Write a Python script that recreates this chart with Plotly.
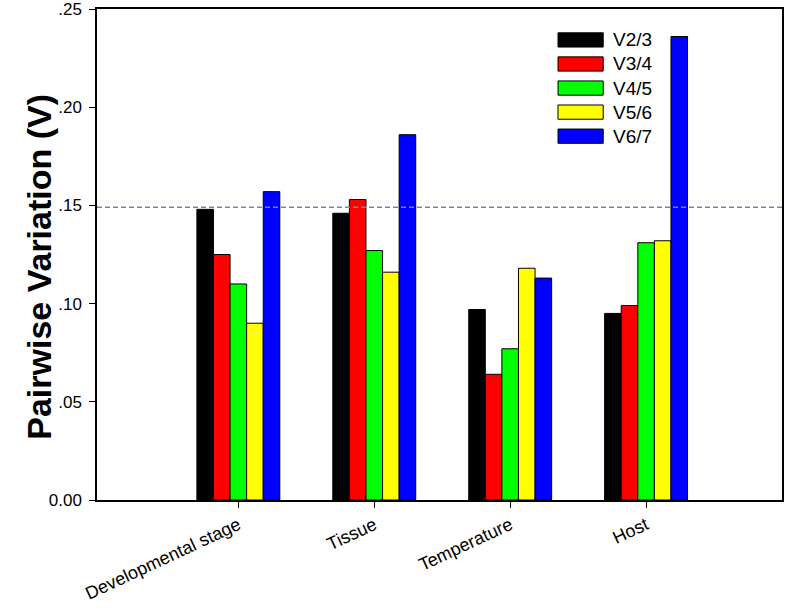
import plotly.graph_objects as go

categories = ["Developmental stage", "Tissue", "Temperature", "Host"]
series_names = ["V2/3", "V3/4", "V4/5", "V5/6", "V6/7"]
v23 = [0.148, 0.146, 0.097, 0.095]
v34 = [0.125, 0.153, 0.064, 0.099]
v45 = [0.110, 0.127, 0.077, 0.131]
v56 = [0.090, 0.116, 0.118, 0.132]
v67 = [0.157, 0.186, 0.113, 0.236]
series_values = [v23, v34, v45, v56, v67]
colors = ["#000000", "#ff0000", "#00ff00", "#ffff00", "#0000ff"]
threshold = 0.149
y_tickvals = [0, 0.05, 0.10, 0.15, 0.20, 0.25]
y_ticktext = ["0.00", ".05", ".10", ".15", ".20", ".25"]
y_title = "Pairwise Variation (V)"

x_idx = list(range(len(categories)))

fig = go.Figure()
for name, vals, col in zip(series_names, series_values, colors):
    fig.add_trace(go.Bar(
        x=x_idx, y=vals, name=name,
        marker=dict(color=col, line=dict(color="#000000", width=1)),
        showlegend=False,
    ))

# threshold line
fig.add_shape(type="line", xref="paper", x0=0, x1=1, yref="y", y0=threshold, y1=threshold,
              line=dict(color="#6a8ab4", width=1.5, dash="5px,3px"))

# custom legend with wide swatches (paper coordinates)
lx0, lx1 = 0.673, 0.739
ly_top = 0.937
ly_step = 0.049
for i, (name, col) in enumerate(zip(series_names, colors)):
    yc = ly_top - i * ly_step
    fig.add_shape(type="rect", xref="paper", yref="paper",
                  x0=lx0, x1=lx1, y0=yc - 0.0145, y1=yc + 0.0145,
                  fillcolor=col, line=dict(color="#000000", width=1))
    fig.add_annotation(xref="paper", yref="paper", x=lx1 + 0.012, y=yc,
                       text=name, showarrow=False, xanchor="left", yanchor="middle",
                       font=dict(family="Arial, Liberation Sans", size=19, color="#000000"))

# y-axis title as rotated annotation
fig.add_annotation(xref="paper", yref="paper", x=-0.084, y=0.476,
                   text="<b>" + y_title + "</b>", textangle=-90, showarrow=False,
                   xanchor="center", yanchor="middle",
                   font=dict(family="Arial, Liberation Sans", size=34, color="#000000"))

fig.update_layout(
    width=785, height=615,
    margin=dict(l=97, r=3, t=9, b=115, autoexpand=False),
    plot_bgcolor="white", paper_bgcolor="white",
    barmode="group", bargap=0.39, bargroupgap=0,
    font=dict(family="Arial, Liberation Sans", color="#000000"),
)
fig.update_xaxes(
    range=[-1.04, 4.0], tickmode="array", tickvals=x_idx, ticktext=categories,
    tickangle=-25, ticks="outside", ticklen=6, tickcolor="#000000", tickwidth=1,
    showline=True, linecolor="#000000", linewidth=1.5, mirror=True,
    showgrid=False, zeroline=False, automargin=False,
    tickfont=dict(family="Arial, Liberation Sans", size=18, color="#000000"),
)
fig.update_yaxes(
    range=[0, 0.25], tickmode="array", tickvals=y_tickvals, ticktext=y_ticktext,
    ticks="outside", ticklen=6, tickcolor="#000000", tickwidth=1,
    showline=True, linecolor="#000000", linewidth=1.5, mirror=True,
    showgrid=False, zeroline=False, automargin=False, ticklabeloverflow="allow",
    ticklabelstandoff=4,
    tickfont=dict(family="Arial, Liberation Sans", size=17, color="#000000"),
)

fig.write_html("out.html", config={"displayModeBar": False},
               post_script="document.body.style.margin='0';document.body.style.overflow='hidden';")
